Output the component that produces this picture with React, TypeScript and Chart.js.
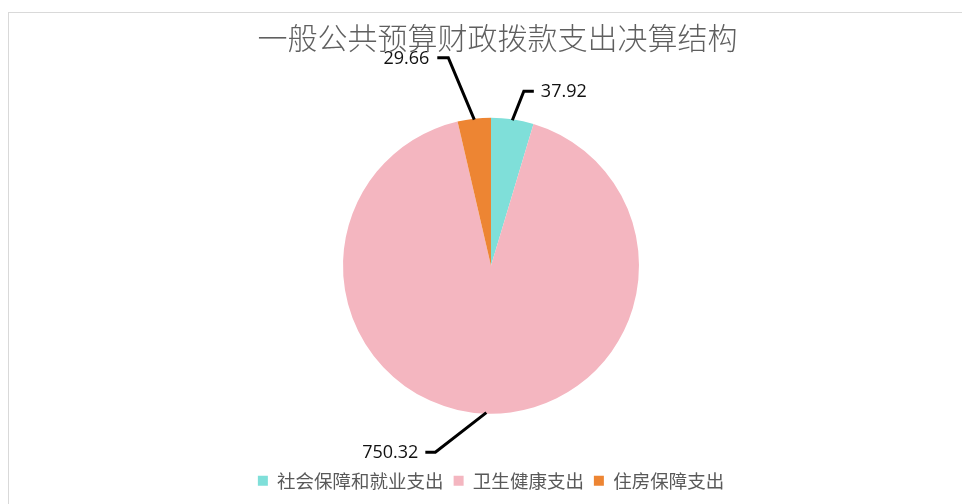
import React, { useEffect, useRef } from "react";
import { Chart, registerables } from "chart.js";

Chart.register(...registerables);

const TITLE = "一般公共预算财政拨款支出决算结构";
const categories = ["社会保障和就业支出", "卫生健康支出", "住房保障支出"];
const values = [37.92, 750.32, 29.66];
const labelsText = ["37.92", "750.32", "29.66"];
const colors = ["#7FDFD9", "#F4B6C0", "#ED8533"];
// leader-line elbow offsets (layout only): dx, dy, direction, horizontal length, text gap
const elbowOffsets = [
  [11.5, -29, 1, 10, 7],
  [-51, 39.5, -1, 10, 7],
  [-26, -62, -1, 11, 8],
];

const leaderPlugin = {
  id: "leaderLabels",
  afterDatasetsDraw(chart: any) {
    const ctx = chart.ctx;
    const meta = chart.getDatasetMeta(0);
    ctx.save();
    meta.data.forEach((arc: any, i: number) => {
      const { x, y, startAngle, endAngle, outerRadius } = arc.getProps(
        ["x", "y", "startAngle", "endAngle", "outerRadius"],
        true
      );
      const mid = (startAngle + endAngle) / 2;
      const px = x + Math.cos(mid) * (outerRadius - 1);
      const py = y + Math.sin(mid) * (outerRadius - 1);
      const [dx, dy, dir, hl, gap] = elbowOffsets[i];
      const ex = px + dx;
      const ey = py + dy;
      const hx = ex + dir * hl;
      ctx.beginPath();
      ctx.moveTo(px, py);
      ctx.lineTo(ex, ey);
      ctx.lineTo(hx, ey);
      ctx.strokeStyle = "#000";
      ctx.lineWidth = 3;
      ctx.lineJoin = "miter";
      ctx.stroke();
      ctx.fillStyle = "#111";
      ctx.font = "18px 'Open Sans', sans-serif";
      ctx.textBaseline = "middle";
      ctx.textAlign = dir > 0 ? "left" : "right";
      ctx.fillText(labelsText[i], hx + dir * gap, ey + 1);
    });
    ctx.restore();
  },
};

const titlePlugin = {
  id: "offsetTitle",
  afterDraw(chart: any) {
    const t = chart.titleBlock;
    if (!t) return;
    const ctx = chart.ctx;
    ctx.save();
    ctx.fillStyle = "#5f5f5f";
    ctx.font = "300 30px 'Noto Sans CJK SC'";
    ctx.textAlign = "center";
    ctx.textBaseline = "middle";
    ctx.fillText(TITLE, 497.5, t.top + 20 + 18);
    ctx.restore();
  },
};

export default function App() {
  const ref = useRef<HTMLCanvasElement>(null);
  useEffect(() => {
    if (!ref.current) return;
    const chart = new Chart(ref.current, {
      type: "pie",
      data: {
        labels: categories,
        datasets: [
          {
            data: values,
            backgroundColor: colors,
            borderWidth: 0,
            radius: 148,
          } as any,
        ],
      },
      options: {
        animation: false,
        responsive: false,
        maintainAspectRatio: false,
        layout: { padding: { left: 20, right: 0, top: 0, bottom: 4 } },
        plugins: {
          title: {
            display: true,
            text: TITLE,
            color: "rgba(0,0,0,0)",
            font: { family: "'Noto Sans CJK SC'", size: 30, weight: "300" as any },
            padding: { top: 20, bottom: 14 },
          },
          legend: {
            position: "bottom",
            labels: {
              boxWidth: 10,
              boxHeight: 10,
              color: "#595959",
              padding: 10,
              font: { family: "'Noto Sans CJK SC'", size: 18.5 },
            },
          },
          tooltip: { enabled: false },
        },
      },
      plugins: [leaderPlugin, titlePlugin],
    });
    return () => chart.destroy();
  }, []);
  return (
    <div style={{ position: "absolute", left: 0, top: 0, width: 962, height: 504, overflow: "hidden", background: "#fff" }}>
      <div
        style={{
          position: "absolute",
          left: 8,
          top: 12,
          width: 1000,
          height: 600,
          border: "1px solid #d9d9d9",
          boxSizing: "border-box",
        }}
      />
      <canvas ref={ref} width={962} height={504} style={{ position: "absolute", left: 0, top: 0 }} />
    </div>
  );
}
